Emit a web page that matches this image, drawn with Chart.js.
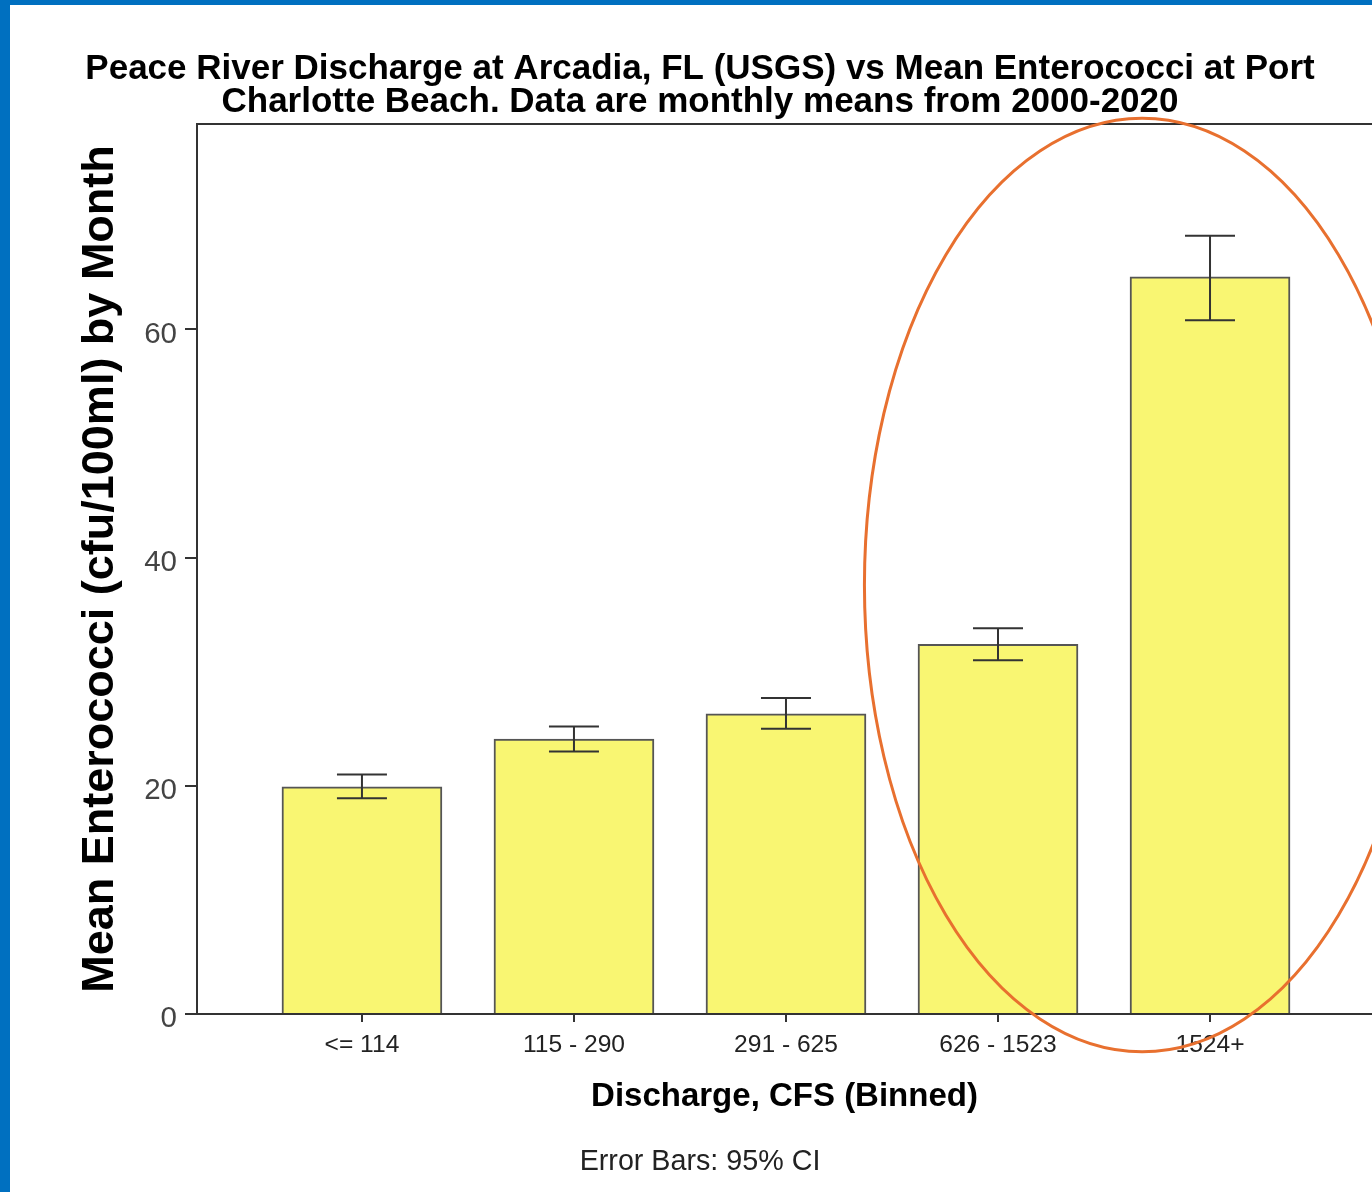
<!DOCTYPE html>
<html>
<head>
<meta charset="utf-8">
<title>Peace River Discharge vs Mean Enterococci</title>
<script src="https://cdn.jsdelivr.net/npm/chart.js"></script>
<style>
  html, body { margin: 0; padding: 0; background: #fff; }
  canvas { display: block; }
</style>
</head>
<body>
<canvas id="chart" width="1372" height="1192"></canvas>
<script>
// --- Data ---
const categories = ['<= 114', '115 - 290', '291 - 625', '626 - 1523', '1524+'];
const meanValues = [19.9, 24.1, 26.3, 32.4, 64.6];
const ciLower = [18.9, 23.0, 25.0, 31.0, 60.8];
const ciUpper = [21.0, 25.2, 27.7, 33.8, 68.2];
const yTickValues = [0, 20, 40, 60];

const titleLines = [
    'Peace River Discharge at Arcadia, FL (USGS) vs Mean Enterococci at Port',
    'Charlotte Beach. Data are monthly means from 2000-2020'
];
const yTitle = 'Mean Enterococci (cfu/100ml) by Month';
const xTitle = 'Discharge, CFS (Binned)';
const footnote = 'Error Bars: 95% CI';

// orange highlight ring, in data units (centre and half-axes)
const highlight = { cx: 4.68, cy: 37.6, rx: 1.31, ry: 40.9 };

// --- Fonts: SPSS style narrow labels if a narrow face is present ---
function fontExists(name) {
    const ctx = document.createElement('canvas').getContext('2d');
    const probe = '115 - 290 Error Bars';
    ctx.font = '40px monospace';
    const base = ctx.measureText(probe).width;
    ctx.font = `40px "${name}", monospace`;
    return ctx.measureText(probe).width !== base;
}
const hasNarrow = fontExists('Liberation Sans Narrow');
const narrowFamily = hasNarrow ? '"Liberation Sans Narrow", "Arial Narrow", sans-serif' : '"Liberation Sans", Arial, sans-serif';
const narrowScale = hasNarrow ? 1 : 0.82;
const sansFamily = '"Liberation Sans", Arial, sans-serif';

const BAR_FILL = '#f9f672';
const BAR_EDGE = '#555';
const INK = '#333';

const extrasPlugin = {
    id: 'extras',
    beforeDraw(chart) {
        const { ctx, width, height } = chart;
        ctx.save();
        ctx.fillStyle = '#fff';
        ctx.fillRect(0, 0, width, height);
        ctx.fillStyle = '#0070c0';
        ctx.fillRect(0, 0, 10, height);
        ctx.fillRect(0, 0, width, 5);
        ctx.restore();
    },
    afterDatasetsDraw(chart) {
        const { ctx, chartArea } = chart;
        const x = chart.scales.x;
        const y = chart.scales.y;
        ctx.save();
        // top frame line
        ctx.strokeStyle = INK;
        ctx.lineWidth = 2;
        ctx.beginPath();
        ctx.moveTo(chartArea.left, chartArea.top);
        ctx.lineTo(chartArea.right, chartArea.top);
        ctx.stroke();

        // error bars (95% CI)
        const cap = 25;
        categories.forEach((_, i) => {
            const px = x.getPixelForValue(i + 1);
            const top = y.getPixelForValue(ciUpper[i]);
            const bot = y.getPixelForValue(ciLower[i]);
            ctx.beginPath();
            ctx.moveTo(px, top);
            ctx.lineTo(px, bot);
            ctx.moveTo(px - cap, top);
            ctx.lineTo(px + cap, top);
            ctx.moveTo(px - cap, bot);
            ctx.lineTo(px + cap, bot);
            ctx.stroke();
        });
        ctx.restore();
    },
    afterDraw(chart) {
        const { ctx } = chart;
        const x = chart.scales.x;
        const y = chart.scales.y;
        const cx = x.getPixelForValue(highlight.cx);
        const cy = y.getPixelForValue(highlight.cy);
        const rx = x.getPixelForValue(highlight.cx + highlight.rx) - cx;
        const ry = cy - y.getPixelForValue(highlight.cy + highlight.ry);
        ctx.save();
        ctx.strokeStyle = '#e8702f';
        ctx.lineWidth = 3;
        ctx.beginPath();
        ctx.ellipse(cx, cy, rx, ry, 0, 0, Math.PI * 2);
        ctx.stroke();
        ctx.restore();
    }
};

new Chart(document.getElementById('chart'), {
    type: 'bar',
    data: {
        datasets: [{
            data: categories.map((c, i) => ({ x: i + 1, y: meanValues[i] })),
            backgroundColor: BAR_FILL,
            borderColor: BAR_EDGE,
            borderWidth: 2,
            borderSkipped: 'bottom',
            barThickness: 160
        }]
    },
    options: {
        responsive: false,
        animation: false,
        devicePixelRatio: 1,
        layout: { padding: { left: 28, top: 5, right: 0, bottom: 0 } },
        plugins: {
            legend: { display: false },
            tooltip: { enabled: false },
            title: {
                display: true,
                text: titleLines,
                color: '#000',
                font: { family: sansFamily, size: 35, weight: 'bold', lineHeight: '33px' },
                padding: { top: 48, bottom: 5 }
            },
            subtitle: {
                display: true,
                position: 'bottom',
                text: footnote,
                color: '#222',
                font: { family: narrowFamily, size: 35 * narrowScale, weight: 'normal', lineHeight: '30px' },
                padding: { top: 0, bottom: 15 }
            }
        },
        scales: {
            x: {
                type: 'linear',
                offset: false,
                min: 0.222,
                max: 5.764,
                afterBuildTicks: (scale) => {
                    scale.ticks = categories.map((_, i) => ({ value: i + 1 }));
                },
                afterFit: (scale) => { scale.height = 133; },
                border: { display: true, color: INK, width: 2 },
                grid: { offset: false, drawOnChartArea: false, drawTicks: true, tickLength: 8, color: INK, lineWidth: 2 },
                ticks: {
                    autoSkip: false,
                    maxRotation: 0,
                    padding: 8,
                    color: '#222',
                    font: { family: narrowFamily, size: 30 * narrowScale },
                    callback: (v) => categories[v - 1] ?? ''
                },
                title: {
                    display: true,
                    text: xTitle,
                    color: '#000',
                    font: { family: sansFamily, size: 33, weight: 'bold', lineHeight: 1.2 },
                    padding: { top: 0, bottom: 30 }
                }
            },
            y: {
                min: 0,
                max: 78,
                afterBuildTicks: (scale) => {
                    scale.ticks = yTickValues.map(v => ({ value: v }));
                },
                afterFit: (scale) => { scale.width = 169; },
                border: { display: true, color: INK, width: 2 },
                grid: { drawOnChartArea: false, drawTicks: true, tickLength: 12, color: INK, lineWidth: 2 },
                ticks: {
                    padding: 8,
                    labelOffset: 5,
                    color: '#444',
                    font: { family: narrowFamily, size: 36 * narrowScale }
                },
                title: {
                    display: true,
                    text: yTitle,
                    color: '#000',
                    font: { family: sansFamily, size: 45, weight: 'bold', lineHeight: 1.2 },
                    padding: { top: 46, bottom: 0 }
                }
            }
        }
    },
    plugins: [extrasPlugin]
});
</script>
</body>
</html>
